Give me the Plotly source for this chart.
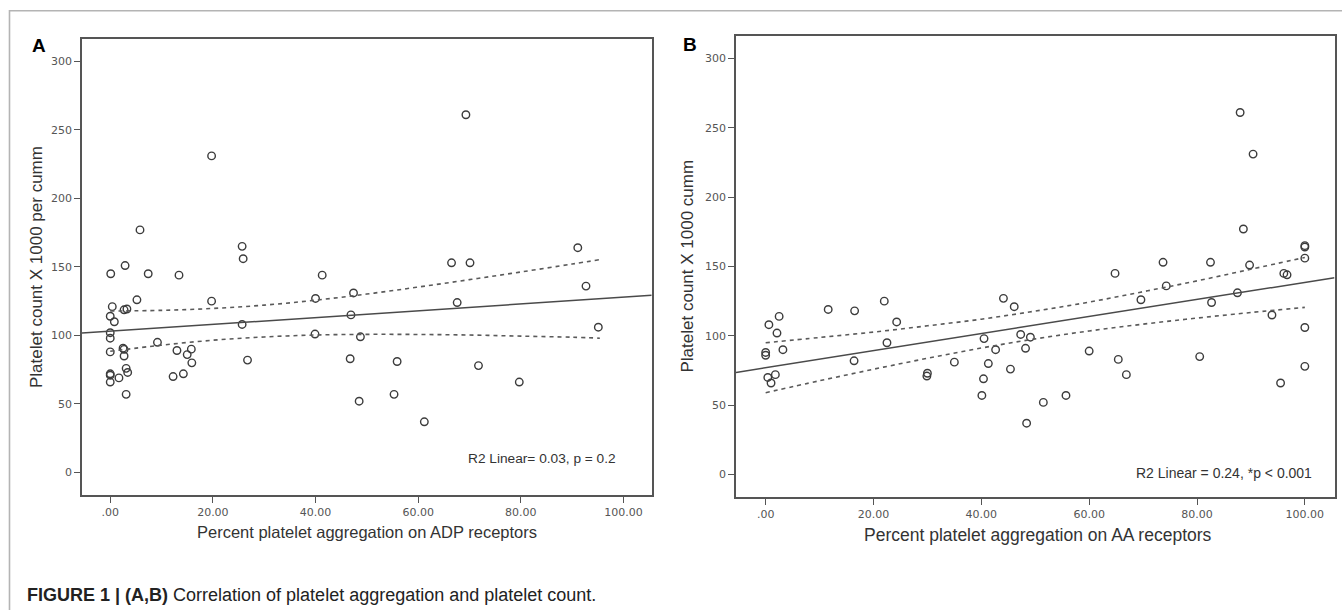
import plotly.graph_objects as go

# ---------------- data ----------------
adp_x = [69.3, 19.75, 5.8, 25.7, 25.9, 91.1, 66.5, 70.1, 0.1, 2.9, 7.4, 13.4, 41.3, 92.7,
         47.4, 40.0, 5.2, 19.75, 67.6, 0.4, 2.7, 3.25, 0.0, 0.8, 46.9, 25.7, 95.1, 0.0,
         0.0, 39.9, 48.75, 9.2, 0.0, 2.5, 2.7, 13.0, 15.8, 15.0, 2.7, 15.9, 26.75, 46.75,
         55.9, 3.1, 3.4, 0.0, 0.0, 1.7, 0.0, 12.25, 14.25, 71.75, 79.7, 3.1, 55.3, 48.5, 61.2]
adp_y = [261, 231, 177, 165, 156, 164, 153, 153, 145, 151, 145, 144, 144, 136,
         131, 127, 126, 125, 124, 121, 118.7, 119.3, 114, 110, 115, 108, 106, 102,
         98, 101, 99, 95, 88, 90.7, 89.8, 89, 90, 86, 85, 80, 82, 83,
         81, 76, 73, 72, 71, 69, 66, 70, 72, 78, 66, 57, 57, 52, 37]

aa_x = [88.0, 90.4, 88.6, 100.0, 100.0, 100.0, 64.8, 73.7, 82.5, 89.75, 96.1, 96.7, 74.3,
        87.5, 69.6, 82.7, 93.9, 100.0, 100.0, 95.5, 80.5, 44.1, 46.1, 40.5, 47.3, 49.1,
        48.2, 42.65, 41.3, 45.4, 40.4, 40.1, 51.5, 48.4, 55.7, 60.0, 65.4, 66.9, 11.6,
        16.5, 22.0, 24.3, 22.5, 16.4, 29.9, 30.0, 35.0, 0.6, 2.5, 2.1, 3.2, 0.0, 0.0,
        0.4, 1.8, 1.0]
aa_y = [261, 231, 177, 165, 164, 156, 145, 153, 153, 151, 145, 144, 136,
        131, 126, 124, 115, 106, 78, 66, 85, 127, 121, 98, 101, 99,
        91, 90, 80, 76, 69, 57, 52, 37, 57, 89, 83, 72, 119,
        118, 125, 110, 95, 82, 71, 73, 81, 108, 114, 102, 90, 88, 86,
        70, 72, 66]

# fitted lines (intercept, slope)
fit_a = (103.1, 0.248)
fit_b = (77.0, 0.615)

# 95% confidence band
ci_a_x = [0, 10, 20, 30, 40, 50, 60, 70, 80, 90, 95.4]
ci_a_up = [117.8, 118.3, 119.7, 122.1, 125.7, 130.2, 135.3, 140.7, 146.3, 152.1, 155.3]
ci_a_lo = [88.4, 92.9, 96.5, 98.9, 100.3, 100.8, 100.7, 100.3, 99.5, 98.7, 98.0]

ci_b_x = [0, 10, 20, 30, 40, 50, 60, 70, 80, 90, 100]
ci_b_up = [95.0, 98.8, 102.7, 107.2, 112.0, 117.8, 124.3, 131.8, 139.6, 148.0, 156.5]
ci_b_lo = [59.0, 67.6, 75.9, 83.8, 91.2, 97.8, 103.5, 108.4, 112.8, 116.8, 120.5]

x_ticks = [0, 20, 40, 60, 80, 100]
x_tick_text = [".00", "20.00", "40.00", "60.00", "80.00", "100.00"]
y_ticks = [0, 50, 100, 150, 200, 250, 300]

XR = [-5.5, 105.5]
YR = [-16.2, 316.5]

W, H = 1342, 610
INK = "#3c3c3c"
FONT = "Liberation Sans, Arial"

fig = go.Figure()


def add_panel(xs, ys, fit, cx, up, lo, xa, ya):
    fig.add_trace(go.Scatter(x=xs, y=ys, mode="markers", xaxis=xa, yaxis=ya,
                             marker=dict(symbol="circle-open", size=7.5, color=INK,
                                         line=dict(color=INK, width=1.4)),
                             showlegend=False, hoverinfo="x+y"))
    fx = XR
    fy = [fit[0] + fit[1] * v for v in fx]
    fig.add_trace(go.Scatter(x=fx, y=fy, mode="lines", xaxis=xa, yaxis=ya,
                             line=dict(color="#4a4a4a", width=1.5),
                             showlegend=False, hoverinfo="skip"))
    for band in (up, lo):
        fig.add_trace(go.Scatter(x=cx, y=band, mode="lines", xaxis=xa, yaxis=ya,
                                 line=dict(color="#5a5a5a", width=1.6, dash="4px,4px",
                                           shape="spline"),
                                 showlegend=False, hoverinfo="skip"))


add_panel(adp_x, adp_y, fit_a, ci_a_x, ci_a_up, ci_a_lo, "x", "y")
add_panel(aa_x, aa_y, fit_b, ci_b_x, ci_b_up, ci_b_lo, "x2", "y2")

axis_common = dict(showgrid=False, zeroline=False, showline=True, linecolor="#555",
                   linewidth=1.6, mirror=True, ticks="outside", ticklen=6,
                   tickwidth=1.4, tickcolor="#555",
                   tickfont=dict(family="DejaVu Sans", size=11, color="#555"))


def tfont(size):
    return dict(family=FONT, size=size, color="#333")


fig.update_layout(
    width=W, height=H, margin=dict(l=0, r=0, t=0, b=0),
    paper_bgcolor="white", plot_bgcolor="white",
    xaxis=dict(domain=[82 / W, 651.7 / W], range=XR, tickvals=x_ticks,
               ticktext=x_tick_text, anchor="y", **axis_common),
    yaxis=dict(domain=[1 - 494.7 / H, 1 - 38.7 / H], range=YR, tickvals=y_ticks,
               anchor="x", **axis_common),
    xaxis2=dict(domain=[736 / W, 1334.5 / W], range=XR, tickvals=x_ticks,
                ticktext=x_tick_text, anchor="y2", **axis_common),
    yaxis2=dict(domain=[1 - 497 / H, 1 - 35.5 / H], range=YR, tickvals=y_ticks,
                anchor="x2", **axis_common),
)

ann = []
# panel letters
ann.append(dict(text="<b>A</b>", x=30 / W, y=1 - 46 / H, xref="paper", yref="paper",
                xanchor="left", yanchor="middle", showarrow=False,
                font=dict(family=FONT, size=19, color="black")))
ann.append(dict(text="<b>B</b>", x=681 / W, y=1 - 45 / H, xref="paper", yref="paper",
                xanchor="left", yanchor="middle", showarrow=False,
                font=dict(family=FONT, size=19, color="black")))
# axis titles
ann.append(dict(text="Platelet count X 1000 per cumm", x=36 / W, y=1 - 267 / H,
                xref="paper", yref="paper", textangle=-90, showarrow=False,
                xanchor="center", yanchor="middle", font=tfont(17)))
ann.append(dict(text="Platelet count X 1000 cumm", x=687 / W, y=1 - 266.5 / H,
                xref="paper", yref="paper", textangle=-90, showarrow=False,
                xanchor="center", yanchor="middle", font=tfont(17)))
ann.append(dict(text="Percent platelet aggregation on ADP receptors", x=367 / W,
                y=1 - 532 / H, xref="paper", yref="paper", showarrow=False,
                xanchor="center", yanchor="middle", font=tfont(16.5)))
ann.append(dict(text="Percent platelet aggregation on AA receptors", x=1037.7 / W,
                y=1 - 535 / H, xref="paper", yref="paper", showarrow=False,
                xanchor="center", yanchor="middle", font=tfont(17.5)))
# R2 notes
ann.append(dict(text="R2 Linear= 0.03, p = 0.2", x=99.0, y=10.2, xref="x", yref="y",
                xanchor="right", yanchor="middle", showarrow=False, font=tfont(13.7)))
ann.append(dict(text="R2 Linear = 0.24, *p < 0.001", x=101.7, y=1.0, xref="x2", yref="y2",
                xanchor="right", yanchor="middle", showarrow=False, font=tfont(14)))
# caption
ann.append(dict(text="<b>FIGURE 1 | (A,B)</b> Correlation of platelet aggregation and platelet count.",
                x=25 / W, y=1 - 595 / H, xref="paper", yref="paper", xanchor="left",
                yanchor="middle", showarrow=False,
                font=dict(family=FONT, size=18, color="#222")))
fig.update_layout(annotations=ann)

# outer figure frame
fig.add_shape(type="rect", xref="paper", yref="paper", x0=9.5 / W, y0=-0.05,
              x1=1.05, y1=1 - 10.8 / H, line=dict(color="#b4b4b4", width=1.6),
              fillcolor="rgba(0,0,0,0)", layer="below")

fig.write_html("out.html", config={"displayModeBar": False},
               post_script="document.body.style.margin='0';document.body.style.overflow='hidden';")
